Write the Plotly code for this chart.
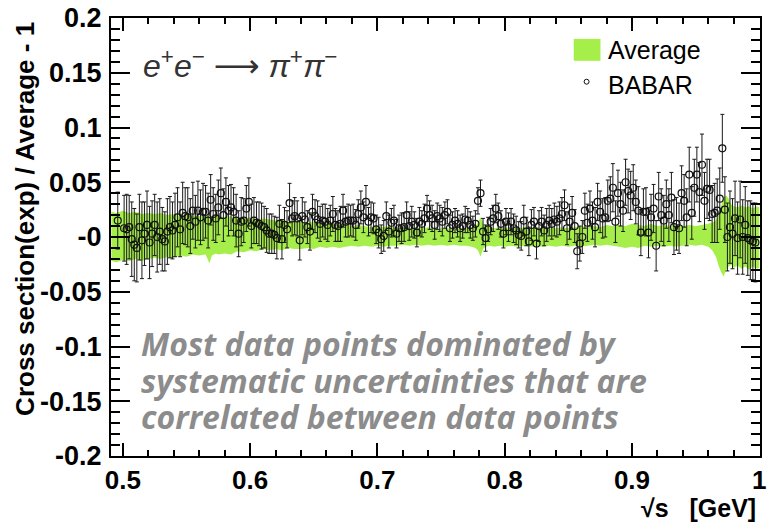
import plotly.graph_objects as go

# BABAR e+e- -> pi+pi- cross section relative to the world average, vs sqrt(s)
SQRT_S_MEV = [
    496,
    501, 503, 505, 507, 509, 511, 513, 515, 517, 519, 521, 523, 525, 527, 529, 531, 533, 535, 537, 539,
    541, 543, 545, 547, 549, 551, 553, 555, 557, 559, 561, 563, 565, 567, 569, 571, 573, 575, 577, 579,
    581, 583, 585, 587, 589, 591, 593, 595, 597, 599, 601, 603, 605, 607, 609, 611, 613, 615,
    617, 619, 621, 623, 625, 627, 629, 631, 633, 635, 637, 639, 641, 643, 645, 647, 649, 651, 653, 655,
    657, 659, 661, 663, 665, 667, 669, 671, 673, 675, 677, 679, 681, 683, 685, 687, 689, 691, 693, 695,
    697, 699, 701, 703, 705, 707, 709, 711, 713, 715, 717, 719, 721, 723, 725, 727, 729, 731, 733, 735,
    737, 739, 741,
    743, 745, 747, 749, 751, 753, 755, 757, 759, 761, 763, 765, 767, 769, 771, 773, 775, 777, 779, 781,
    783, 785, 787, 789, 791, 793, 795, 797, 799, 801, 803, 805, 807, 809, 811, 813, 815, 817, 819, 821,
    823, 825, 827, 829, 831, 833, 835, 837, 839, 841, 843, 845, 847, 849, 851, 853, 855, 857, 859, 861,
    863, 865, 867,
    869, 871, 873, 875, 877, 879, 881, 883, 885, 887, 889, 891, 893, 895, 897, 899, 901, 903, 905, 907,
    909, 911, 913, 915, 917, 919, 921, 923, 925, 927, 929, 931, 933, 935, 937, 939, 941, 943, 945, 947,
    949, 951, 953, 955, 957, 959, 961, 963, 965, 967, 969, 971, 973, 975, 977, 979, 981, 983, 985, 987,
    989, 991, 993, 995, 997,
]

# (sigma_BABAR / sigma_average - 1), in units of 1e-3
DEV_PERMIL = [
    15,
    8, 7, 9, -2, -7, -10, 9, -3, 3, 11, -5, 3, 11, 0, 5, -2, -4, 5, 9, 6,
    11, 18, 7, 22, 19, 18, 10, 24, 14, 24, 18, 23, 23, 15, 34, 21, 17, 27, 40, 20,
    32, 24, 27, 23, 15, 3, 14, 15, 26, 32, 10, 15, 13, 12, 10, 9, 6, 3,
    3, 2, -1, 12, -2, 11, 7, 31, 17, 19, 17, -3, 19, 16, 9, 5, 23, 19, 16, 12,
    15, 14, 11, 15, 21, 11, 10, 12, 24, 14, 15, 15, 15, 11, 21, 27, 18, 32, 14, 18,
    17, 7, 4, -2, 1, 19, 5, 13, 15, 3, 8, 8, 9, 20, 10, 14, 11, 4, 14, 12,
    17, 26, 20,
    17, 11, 19, 17, 14, 20, 23, 8, 11, 15, 12, 8, 10, 16, 15, 11, 8, 12, 33, 40,
    5, -1, 7, 14, 17, 26, 19, 12, 3, 14, 9, 14, 8, 6, 2, 1, 15, 5, -4, 11,
    14, -6, 10, 14, 6, 11, 15, 12, 16, 14, 17, 21, 29, 8, 14, 22, 10, -13, -6, 0,
    24, 13, 26,
    15, 9, 32, 23, 17, 18, 33, 35, 45, 14, 40, 30, 24, 50, 42, 38, 45, 32, 24, 4,
    23, 23, 4, 18, 26, -8, 37, 20, 15, 30, 20, 36, 9, 12, 8, 40, 33, 18, 57, 22,
    45, 57, 41, 66, 33, 44, 43, 21, 22, 24, 35, 81, 25, 0, 9, 3, 17, -1, 16, 0,
    11, -1, -3, -4, -5,
]

# total uncertainty of each BABAR point, in units of 1e-3
ERR_PERMIL = [
    26,
    30, 32, 29, 34, 33, 31, 30, 35, 29, 31, 33, 30, 28, 32, 30,
    29, 27, 30, 28, 26, 29, 27, 25, 28, 26, 27, 25, 26, 24, 27, 25, 26, 24, 25, 23,
    24, 22, 25, 23, 24, 22, 23, 21, 22, 24, 21, 22, 20, 21, 22, 20, 21, 19, 20, 21, 19, 20, 18,
    18, 17, 19, 17, 18, 16, 17, 18, 16, 17, 16, 18, 17, 16, 15, 17, 16, 15, 17, 16,
    15, 16, 15, 14, 16, 15, 14, 16, 15, 14, 15, 14, 15, 14, 13, 15, 14, 15, 13, 14,
    14, 13, 14, 13, 14, 13, 15, 13, 14, 13, 12, 14, 13, 12, 13, 14, 12, 13, 13, 12,
    13, 12, 13,
    12, 13, 12, 12, 13, 12, 11, 12, 12, 11, 12, 12, 11, 12, 11, 12, 11, 12, 12, 12,
    12, 12, 11, 12, 12, 13, 12, 12, 13, 12, 13, 12, 13, 13, 12, 13, 14, 13, 13, 14,
    13, 14, 14, 13, 14, 15, 14, 14, 15, 14, 15, 15, 14, 15, 16, 15, 15, 16, 16, 15,
    16, 17, 16,
    17, 18, 17, 19, 18, 18, 19, 20, 22, 19, 21, 20, 19, 21, 20, 22, 21, 20, 22, 21,
    21, 22, 23, 21, 22, 23, 22, 24, 23, 22, 24, 23, 25, 24, 23, 25, 24, 26, 25, 24,
    26, 25, 27, 28, 26, 27, 28, 26, 27, 29, 28, 31, 30, 31, 33, 32, 34, 33, 35, 34,
    35, 34, 36, 35, 36,
]

# uncertainty band of the average, upper and lower edges in units of 1e-3
BAND_X_MEV = [
    491, 495, 500, 505, 510, 515, 520, 525, 530, 535,
    540, 545, 550, 555, 560, 565, 568, 570, 573, 575,
    580, 585, 590, 595, 600, 605, 610, 615, 620, 625,
    630, 635, 640, 645, 650, 655, 660, 665, 670, 675,
    680, 685, 690, 695, 700, 705, 710, 715, 720, 725,
    730, 735, 740, 745, 750, 755, 760, 765, 770, 774,
    777, 779, 781, 782, 783, 785, 788, 792, 796, 800,
    805, 810, 815, 820, 825, 830, 835, 840, 845, 850,
    855, 860, 865, 870, 875, 880, 885, 890, 895, 900,
    905, 910, 915, 920, 925, 930, 935, 940, 945, 950,
    955, 960, 963, 966, 968, 970, 972, 974, 976, 978,
    980, 983, 986, 989, 992, 995, 998, 1000,
]
BAND_HI_PERMIL = [
    23, 22, 24, 22, 23, 21, 22, 21, 22, 20,
    21, 19, 21, 20, 19, 20, 18, 19, 20, 19,
    18, 19, 18, 17, 18, 16, 17, 16, 15, 16,
    14, 15, 14, 13, 14, 12, 13, 12, 11, 12,
    10, 11, 10, 9, 10, 9, 10, 8, 9, 8,
    9, 8, 9, 7, 8, 8, 7, 8, 8, 9,
    10, 13, 18, 16, 12, 10, 9, 8, 9, 8,
    9, 8, 9, 8, 9, 8, 9, 8, 9, 8,
    9, 10, 9, 10, 9, 11, 10, 11, 10, 12,
    11, 10, 12, 10, 11, 10, 11, 10, 11, 10,
    11, 12, 13, 15, 20, 28, 36, 38, 35, 30,
    28, 27, 29, 27, 28, 26, 28, 27,
]
BAND_LO_PERMIL = [
    -22, -23, -21, -22, -20, -22, -20, -19, -20, -18,
    -19, -17, -18, -16, -17, -16, -24, -17, -15, -16,
    -15, -16, -13, -14, -12, -13, -11, -12, -11, -12,
    -10, -11, -11, -10, -11, -9, -10, -9, -10, -9,
    -8, -9, -8, -9, -8, -9, -8, -8, -7, -8,
    -7, -8, -7, -8, -7, -8, -7, -8, -8, -9,
    -10, -12, -18, -15, -11, -9, -8, -9, -8, -9,
    -8, -9, -8, -9, -8, -9, -8, -9, -8, -9,
    -8, -9, -8, -7, -8, -7, -8, -9, -10, -9,
    -10, -8, -9, -8, -9, -8, -9, -8, -7, -8,
    -7, -9, -12, -18, -26, -32, -36, -30, -27, -25,
    -28, -26, -29, -27, -30, -27, -29, -28,
]

X_TICKS = [0.5, 0.6, 0.7, 0.8, 0.9, 1.0]
X_TICK_TEXT = ["0.5", "0.6", "0.7", "0.8", "0.9", "1"]
Y_TICKS = [-0.2, -0.15, -0.1, -0.05, 0.0, 0.05, 0.1, 0.15, 0.2]
Y_TICK_TEXT = ["-0.2", "-0.15", "-0.1", "-0.05", "-0", "0.05", "0.1", "0.15", "0.2"]

GREEN = "#a6ef4b"
FONT = "Liberation Sans"

x_gev = [m / 1000 for m in SQRT_S_MEV]
dev = [v / 1000 for v in DEV_PERMIL]
err = [v / 1000 for v in ERR_PERMIL]
band_x = [m / 1000 for m in BAND_X_MEV]
band_hi = [v / 1000 for v in BAND_HI_PERMIL]
band_lo = [v / 1000 for v in BAND_LO_PERMIL]

fig = go.Figure()

# average +- its uncertainty
fig.add_trace(go.Scatter(
    x=band_x + band_x[::-1],
    y=band_hi + band_lo[::-1],
    fill="toself", fillcolor=GREEN, mode="lines",
    line=dict(width=0, color=GREEN), hoverinfo="skip", showlegend=False,
))

# BABAR points
fig.add_trace(go.Scatter(
    x=x_gev, y=dev, mode="markers",
    marker=dict(symbol="circle-open", size=7, color="#111111", line=dict(width=1.2, color="#111111")),
    error_y=dict(type="data", array=err, visible=True, color="#1a1a1a", thickness=1, width=2),
    showlegend=False,
))

axis_common = dict(
    ticks="inside", tickcolor="black", tickwidth=1.5,
    showline=True, linewidth=2, linecolor="black", mirror="ticks",
    showgrid=False, zeroline=False, ticklabeloverflow="allow",
)

fig.update_xaxes(
    range=[0.4907, 1.0006], tickmode="array", tickvals=X_TICKS,
    ticktext=[f"<b>{t}</b>" for t in X_TICK_TEXT],
    ticklen=13, tickfont=dict(family=FONT, size=26, color="black"),
    minor=dict(ticks="inside", ticklen=6, tickwidth=1.5, tickcolor="black",
               tick0=0.5, dtick=0.02, showgrid=False),
    **axis_common,
)
fig.update_yaxes(
    range=[-0.2, 0.2], tickmode="array", tickvals=Y_TICKS,
    ticktext=[f"<b>{t}</b>" for t in Y_TICK_TEXT],
    ticklen=19, tickfont=dict(family=FONT, size=27, color="black"),
    ticklabelstandoff=2,
    minor=dict(ticks="inside", ticklen=9, tickwidth=1.5, tickcolor="black",
               tick0=0, dtick=0.01, showgrid=False),
    **axis_common,
)

L, R, T, B = 111, 3, 16, 74
W, H = 769, 530
PW, PH = W - L - R, H - T - B


def px(xp):
    return (xp - L) / PW


def py(yp):
    return (H - B - yp) / PH


NOTE_FONT = dict(family="Open Sans", size=32, color="#8c8c8c", weight="bold", style="italic")

annotations = [
    dict(text="Cross section(exp) / Average - 1", textangle=-90,
         x=px(24), y=py(218), xanchor="center", yanchor="middle",
         font=dict(family=FONT, size=26, color="black", weight="bold")),
    dict(text="\u221As\u00a0\u00a0\u00a0[GeV]",
         x=px(764), y=py(508), xanchor="right", yanchor="middle",
         font=dict(family=FONT, size=25, color="black", weight="bold")),
    dict(text="<i>e</i><sup>+</sup><i>e</i><sup>\u2212</sup> "
              "<span style='font-family:DejaVu Sans'>\u27f6</span> "
              "<i>\u03c0</i><sup>+</sup><i>\u03c0</i><sup>\u2212</sup>",
         x=px(141), y=py(63), xanchor="left", yanchor="middle",
         font=dict(family=FONT, size=32, color="#333333")),
    dict(text="Most data points dominated by",
         x=px(139), y=py(343), xanchor="left", yanchor="middle", font=NOTE_FONT),
    dict(text="systematic uncertainties that are",
         x=px(139), y=py(380), xanchor="left", yanchor="middle", font=NOTE_FONT),
    dict(text="correlated between data points",
         x=px(139), y=py(416), xanchor="left", yanchor="middle", font=NOTE_FONT),
    dict(text="Average", x=px(611), y=py(48), xanchor="left", yanchor="middle",
         font=dict(family=FONT, size=25, color="black")),
    dict(text="BABAR", x=px(611), y=py(83), xanchor="left", yanchor="middle",
         font=dict(family=FONT, size=25, color="black")),
]
for a in annotations:
    a.update(xref="paper", yref="paper", showarrow=False)

shapes = [
    dict(type="rect", xref="paper", yref="paper",
         x0=px(578), x1=px(605), y0=py(59), y1=py(37),
         fillcolor=GREEN, line=dict(width=0)),
    dict(type="circle", xref="paper", yref="paper",
         x0=px(588.5), x1=px(593.5), y0=py(82.5), y1=py(77.5),
         fillcolor="white", line=dict(width=1, color="#111111")),
]

fig.update_layout(
    width=W, height=H,
    margin=dict(l=L, r=R, t=T, b=B),
    plot_bgcolor="white", paper_bgcolor="white",
    showlegend=False,
    annotations=annotations, shapes=shapes,
)

fig.write_html("out.html")
